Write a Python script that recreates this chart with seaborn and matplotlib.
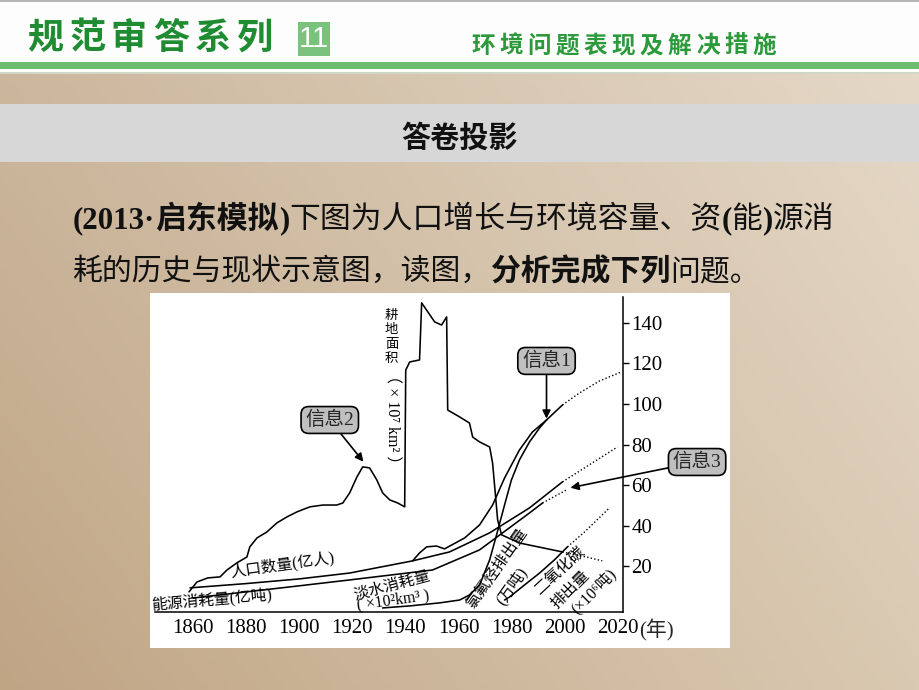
import numpy as np
import pandas as pd
import matplotlib
matplotlib.use("Agg")
import matplotlib.pyplot as plt
import seaborn as sns
from matplotlib.patches import Rectangle

sns.set_style("white")
plt.rcParams["font.family"] = ["Noto Sans CJK SC", "DejaVu Sans"]
plt.rcParams["axes.unicode_minus"] = False

# ---------------- data ----------------
years_ticks = [1860, 1880, 1900, 1920, 1940, 1960, 1980, 2000, 2020]
value_ticks = [20, 40, 60, 80, 100, 120, 140]

# 耕地面积 (×10^7 km^2)
land_year = [1858.5, 1861.5, 1865.6, 1870.2, 1872.8, 1876.5, 1880.3, 1881.4, 1884.1, 1887.8,
             1891.6, 1895.3, 1899.1, 1904.0, 1908.9, 1914.1, 1916.4, 1919.0, 1921.7, 1923.9,
             1926.5, 1929.2, 1931.4, 1934.1, 1937.1, 1939.7, 1940.1, 1941.6, 1945.3, 1946.1,
             1951.0, 1953.6, 1955.5, 1955.9, 1960.4, 1964.1, 1965.3, 1967.9, 1971.7, 1972.8,
             1974.7, 1976.2, 1982.9, 1999.1]
land_val = [7.4, 12.3, 14.3, 14.8, 18.2, 21.7, 24.6, 29.6, 34.0, 36.9,
            41.4, 44.3, 46.8, 49.3, 50.2, 50.2, 51.2, 56.2, 64.0, 69.0,
            68.5, 62.6, 56.2, 52.7, 51.2, 49.3, 116.7, 120.7, 121.7, 149.8,
            140.4, 138.9, 142.9, 97.0, 93.6, 90.6, 83.7, 81.3, 78.8, 70.9,
            42.9, 35.5, 31.5, 27.1]
land_proj_year = [1999.1, 2008.1, 2014.1]
land_proj_val = [27.1, 24.6, 22.7]

# 人口数量 (亿人)
pop_year = [1858.9, 1880, 1900, 1919.0, 1942.7, 1956.6, 1971.7, 1986.7, 1999.1]
pop_val = [9.4, 11.5, 13.8, 16.7, 22.7, 27.1, 36.5, 48.8, 61.6]
pop_proj_year = [1999.1, 2009.2, 2019.8]
pop_proj_val = [61.6, 70.0, 78.8]

# 能源消耗量 (亿吨)
energy_year = [1860, 1880, 1900, 1919.0, 1950.2, 1967.9, 1986.7, 1991.6]
energy_val = [4.4, 7.4, 10.4, 13.3, 18.2, 28.1, 46.3, 51.2]
energy_proj_year = [1991.6, 2000.6]
energy_proj_val = [51.2, 57.6]

# 淡水消耗量 (×10^2 km^3)
water_year = [1942.7, 1945.3, 1948.0, 1951.7, 1954.7, 1962.3, 1967.9, 1972.8, 1977.3,
              1982.9, 1987.8, 1993.1, 1999.1]
water_val = [22.7, 26.6, 29.6, 30.0, 28.6, 34.0, 40.4, 50.2, 63.5, 77.3, 86.2, 92.1, 99.5]
water_proj_year = [1999.1, 2005.5, 2013.0, 2021.3]
water_proj_val = [99.5, 105.4, 111.3, 115.8]

# 氯氟烃排出量 (万吨)
cfc_year = [1931.4, 1941.6, 1952.9, 1960.4, 1964.1, 1967.9, 1971.7, 1974.3, 1977.3,
            1979.9, 1982.9, 1986.7, 1990.5, 1993.1]
cfc_val = [-0.5, 0.5, 2.0, 3.4, 5.9, 10.8, 23.2, 35.5, 50.2, 62.6, 72.4, 81.3, 88.2, 92.1]

# 二氧化碳排出量 (×10^6 吨)
co2_year = [1977.3, 1979.2, 1984.8, 1990.5, 1996.1, 2001.0]
co2_val = [3.4, 4.9, 10.8, 16.7, 23.2, 29.6]
co2_proj_year = [2001.0, 2007.4, 2016.8]
co2_proj_val = [29.6, 36.9, 48.8]

# ---------------- figure ----------------
W, H = 920, 690
def fx(x):
    return x / W
def fy(y):
    return 1 - y / H

fig = plt.figure(figsize=(9.2, 6.9), dpi=100)

# slide background (beige gradient)
bg = fig.add_axes([0, 0, 1, 1], zorder=-10)
def rgb(h):
    h = h.lstrip("#")
    return np.array([int(h[i:i + 2], 16) / 255 for i in (0, 2, 4)])
tl, tr, bl, br = rgb("#cdb9a0"), rgb("#e6dac9"), rgb("#c0a585"), rgb("#dac9b2")
u = np.linspace(0, 1, 200)[None, :, None]
v = np.linspace(0, 1, 150)[:, None, None]
img = (1 - u) * (1 - v) * tl + u * (1 - v) * tr + (1 - u) * v * bl + u * v * br
bg.imshow(img, aspect="auto", extent=[0, 1, 0, 1], origin="upper")
bg.set_xlim(0, 1); bg.set_ylim(0, 1); bg.axis("off")

def frect(x0, y0, x1, y1, color, z=-5):
    r = Rectangle((fx(x0), fy(y1)), (x1 - x0) / W, (y1 - y0) / H,
                  transform=fig.transFigure, fc=color, ec="none", zorder=z)
    fig.add_artist(r)

# header
frect(0, 0, W, 74, "#fdfdfd")
frect(0, 0, W, 2, "#b5b5b5")
frect(0, 62, W, 69, "#6dbd6e")
frect(0, 72, W, 74, "#cfd8c8")
frect(298, 22, 330, 56, "#79c37c")
fig.text(fx(314), fy(39), "11", color="white", fontsize=21, ha="center", va="center",
         family=["Liberation Sans", "DejaVu Sans"])
title = "规范审答系列"
for i, ch in enumerate(title):
    fig.text(fx(45 + i * 42), fy(38), ch, color="#1f8c31", fontsize=26, fontweight="bold",
             ha="center", va="center")
subtitle = "环境问题表现及解决措施"
for i, ch in enumerate(subtitle):
    fig.text(fx(483 + i * 28.1), fy(46), ch, color="#2c9a3b", fontsize=17, fontweight="bold",
             ha="center", va="center")

# grey band
frect(0, 104, W, 162, "#d7d7d7")
fig.text(fx(460), fy(138), "答卷投影", fontsize=21, fontweight="bold", ha="center",
         va="center", color="#111111")

# question text, segment by segment
renderer = fig.canvas.get_renderer()
def seg_line(x_px, base_px, segments):
    x = x_px
    for s, kw in segments:
        t = fig.text(fx(x), fy(base_px), s, ha="left", va="baseline", color="#111111", **kw)
        x += t.get_window_extent(renderer).width

FS = 22.2
serif_b = dict(family=["Liberation Serif", "Noto Sans CJK SC"], fontweight="bold", fontsize=FS)
sans_b = dict(fontweight="bold", fontsize=FS)
sans_r = dict(fontweight="medium", fontsize=FS)
seg_line(73, 228, [("(2013·", serif_b), ("启东模拟", sans_b), (")", serif_b),
                   ("下图为人口增长与环境容量、资", sans_r), ("(", serif_b), ("能", sans_r),
                   (")", serif_b), ("源消", sans_r)])
sans_b2 = dict(fontweight="bold", fontsize=21.5)
sans_r2 = dict(fontweight="medium", fontsize=21.5)
seg_line(73, 280, [("耗的历史与现状示意图，读图，", sans_r2), ("分析完成下列", sans_b2),
                   ("问题。", sans_r2)])

# white chart panel
frect(150, 293, 730, 648, "white")

# chart axes
ax = fig.add_axes([fx(155), fy(612), (623 - 155) / W, (612 - 297) / H])
ax.patch.set_alpha(0)
solid = dict(color="black", lw=1.15, sort=False, estimator=None, legend=False, ax=ax)
dot = dict(color="black", lw=1.0, sort=False, estimator=None, legend=False, ax=ax,
           linestyle=(0, (1, 1.6)))
sns.lineplot(x=land_year, y=land_val, **solid)
sns.lineplot(x=land_proj_year, y=land_proj_val, **dot)
sns.lineplot(x=pop_year, y=pop_val, **solid)
sns.lineplot(x=pop_proj_year, y=pop_proj_val, **dot)
sns.lineplot(x=energy_year, y=energy_val, **solid)
sns.lineplot(x=energy_proj_year, y=energy_proj_val, **dot)
sns.lineplot(x=water_year, y=water_val, **solid)
sns.lineplot(x=water_proj_year, y=water_proj_val, **dot)
sns.lineplot(x=cfc_year, y=cfc_val, **solid)
sns.lineplot(x=co2_year, y=co2_val, **solid)
sns.lineplot(x=co2_proj_year, y=co2_proj_val, **dot)

ax.set_xlim(1845.7, 2021.9)
ax.set_ylim(-2.5, 152.7)
ax.set_xlabel(""); ax.set_ylabel("")
for s in ("left", "top"):
    ax.spines[s].set_visible(False)
for s in ("right", "bottom"):
    ax.spines[s].set_visible(True)
    ax.spines[s].set_color("black")
    ax.spines[s].set_linewidth(1.1)
ax.yaxis.tick_right()
ax.set_xticks(years_ticks)
ax.set_xticklabels([str(y) for y in years_ticks])
ax.set_yticks(value_ticks)
ax.set_yticklabels([str(v) for v in value_ticks])
serif = ["Liberation Serif", "Noto Sans CJK SC", "DejaVu Sans"]
for lab in ax.get_xticklabels() + ax.get_yticklabels():
    lab.set_family(serif)
    lab.set_fontsize(15)
ax.tick_params(axis="x", direction="in", length=4, width=1, pad=5, colors="black")
ax.tick_params(axis="y", direction="out", length=4, width=1, pad=2, colors="black",
               left=False, right=True, labelleft=False, labelright=True)
ax.grid(False)
ax.annotate("(年)", xy=(years_ticks[-1], 0), xycoords=ax.get_xaxis_transform(),
            xytext=(15, -5.5), textcoords="offset points", ha="left", va="top",
            fontsize=15, family=serif, annotation_clip=False)

# curve labels
lab_kw = dict(fontsize=11.3, family=serif, ha="center", va="center", color="black")
land_label = "耕地面积"
for i, ch in enumerate(land_label):
    ax.annotate(ch, xy=(1934.8, 133.2), xytext=(0, (1.5 - i) * 10.4),
                textcoords="offset points", ha="center", va="center", fontsize=9.6,
                color="black")
ax.text(1934.8, 92.3, "（ × 10⁷ km² ）", rotation=270, **{**lab_kw, "fontsize": 11.6})
ax.text(1893.8, 20.9, "人口数量(亿人)", rotation=8, **lab_kw)
ax.text(1867.1, 3.3, "能源消耗量(亿吨)", rotation=5, **lab_kw)
ax.text(1934.8, 10.6, "淡水消耗量", rotation=15, **lab_kw)
ax.text(1935.2, 3.4, "( ×10²km³ )", rotation=8, **lab_kw)
ax.text(1974.3, 19.2, "氯氟烃排出量", rotation=55, **lab_kw)
ax.text(1979.9, 10.3, "(万吨)", rotation=55, **lab_kw)
ax.text(1998.0, 17.7, "二氧化碳", rotation=43, **lab_kw)
ax.text(2002.1, 8.4, "排出量", rotation=45, **lab_kw)
ax.text(2010.8, 7.9, "(×10⁶吨)", rotation=45, **lab_kw)

# info callouts
box = dict(boxstyle="round,pad=0.22,rounding_size=0.4", fc="#bfbfbf", ec="black", lw=1.2)
arr = dict(arrowstyle="-|>", color="black", lw=1.2, mutation_scale=12, shrinkA=0, shrinkB=1)
info_kw = dict(fontsize=14, family=serif, ha="center", va="center", bbox=box,
               arrowprops=arr, annotation_clip=False)
ax.annotate("信息1", xy=(cfc_year[-1], cfc_val[-1]), xytext=(cfc_year[-1], 121.2), **info_kw)
pk = int(np.argmax([v if y < 1935 else 0 for y, v in zip(land_year, land_val)]))
ax.annotate("信息2", xy=(land_year[pk] + 0.6, land_val[pk] + 2.0), xytext=(1911.5, 92.1),
            **info_kw)
ax.annotate("信息3", xy=(energy_proj_year[-1] + 1.0, energy_proj_val[-1] + 1.0),
            xytext=(2049.8, 71.4), **info_kw)

fig.savefig("out.png", dpi=100)
